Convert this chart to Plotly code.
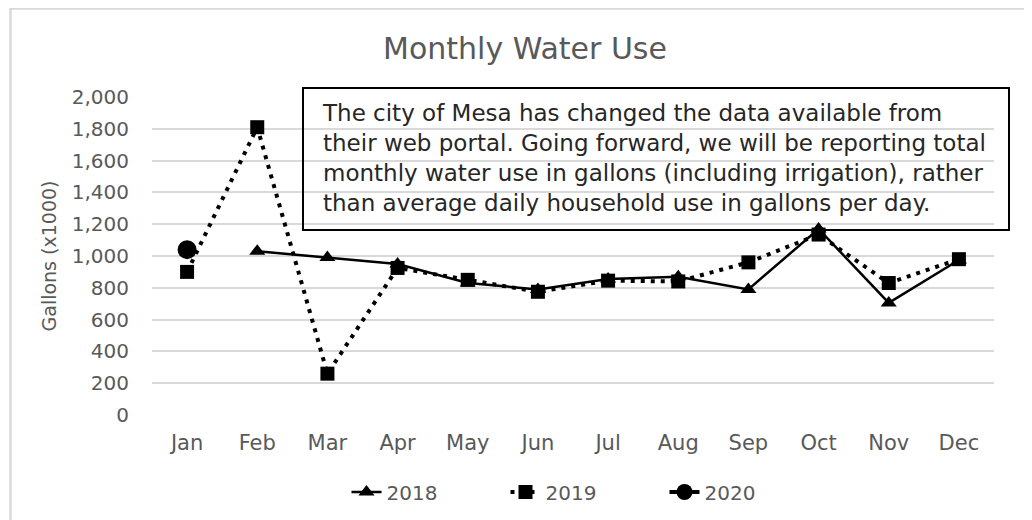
import plotly.graph_objects as go

months = ["Jan", "Feb", "Mar", "Apr", "May", "Jun", "Jul", "Aug", "Sep", "Oct", "Nov", "Dec"]
use_2018 = [None, 1030, 990, 950, 830, 790, 855, 870, 790, 1170, 705, 975]
use_2019 = [900, 1810, 260, 925, 850, 775, 845, 840, 960, 1135, 830, 980]
use_2020 = [1040, None, None, None, None, None, None, None, None, None, None, None]
y_ticks = [0, 200, 400, 600, 800, 1000, 1200, 1400, 1600, 1800, 2000]

FONT = "DejaVu Sans"
GRAY = "#595959"

# page offset of the figure (body margin) and plot area geometry in page px
OFF = 8
W, H = 1032 - OFF, 520 - OFF
L, R, T, B = 152 - OFF, 994 - OFF, 97 - OFF, 415 - OFF

def px_x(p):
    """page x pixel -> paper x"""
    return (p - OFF - L) / (R - L)

def px_y(p):
    """page y pixel -> paper y"""
    return (B - (p - OFF)) / (B - T)

fig = go.Figure()
fig.add_trace(go.Scatter(
    x=months, y=use_2018, name="2018", mode="lines+markers",
    line=dict(color="black", width=2.5),
    marker=dict(symbol="triangle-up", size=14, color="black"),
))
fig.add_trace(go.Scatter(
    x=months, y=use_2019, name="2019", mode="lines+markers",
    line=dict(color="black", width=4, dash="4px,6px"),
    marker=dict(symbol="square", size=14, color="black"),
))
fig.add_trace(go.Scatter(
    x=months, y=use_2020, name="2020", mode="lines+markers",
    line=dict(color="black", width=4),
    marker=dict(symbol="circle", size=19, color="black"),
))

fig.update_layout(
    width=W, height=H,
    margin=dict(l=L, r=W - R, t=T, b=H - B, autoexpand=False),
    paper_bgcolor="white", plot_bgcolor="white",
    font=dict(family=FONT, color=GRAY, size=16),
    title=dict(text="Monthly Water Use", xref="paper", x=px_x(525),
               xanchor="center",
               y=1 - (48 - OFF) / H, yanchor="middle", yref="container",
               font=dict(family=FONT, size=30, color=GRAY)),
    xaxis=dict(type="category", range=[-0.5, 11.5], showgrid=False,
               showline=False, ticks="", tickfont=dict(size=21, color=GRAY),
               ticklabelstandoff=13, automargin=False),
    yaxis=dict(range=[0, 2000], tickvals=y_ticks, tickformat=",d",
               showgrid=True, gridcolor="#d9d9d9", gridwidth=1.5,
               zeroline=False, showline=False, ticks="",
               tickfont=dict(size=20, color=GRAY), ticklabelstandoff=22,
               automargin=False,
               title=dict(text="Gallons (x1000)", standoff=10,
                          font=dict(size=19, color=GRAY))),
    showlegend=True,
    legend=dict(orientation="h", x=px_x(585), xanchor="center",
                y=px_y(492), yanchor="middle",
                font=dict(size=20, color=GRAY),
                entrywidth=114, entrywidthmode="pixels",
                bgcolor="rgba(0,0,0,0)"),
    annotations=[dict(
        xref="paper", yref="paper", x=px_x(320), y=px_y(97.5),
        xanchor="left", yanchor="top", align="left",
        showarrow=False,
        font=dict(family=FONT, size=23, color="#262626"),
        text=("The city of Mesa has changed the data available from<br>"
              "their web portal. Going forward, we will be reporting total<br>"
              "monthly water use in gallons (including irrigation), rather<br>"
              "than average daily household use in gallons per day."),
    )],
    shapes=[
        dict(type="rect", xref="paper", yref="paper",
             x0=px_x(10.5), x1=px_x(1045), y0=px_y(8.5), y1=px_y(540),
             line=dict(color="#d9d9d9", width=2.5), layer="below"),
        dict(type="rect", xref="paper", yref="paper",
             x0=px_x(303), x1=px_x(1009), y0=px_y(88), y1=px_y(230),
             line=dict(color="black", width=2), layer="above"),
    ],
)

fig.write_html("out.html")
